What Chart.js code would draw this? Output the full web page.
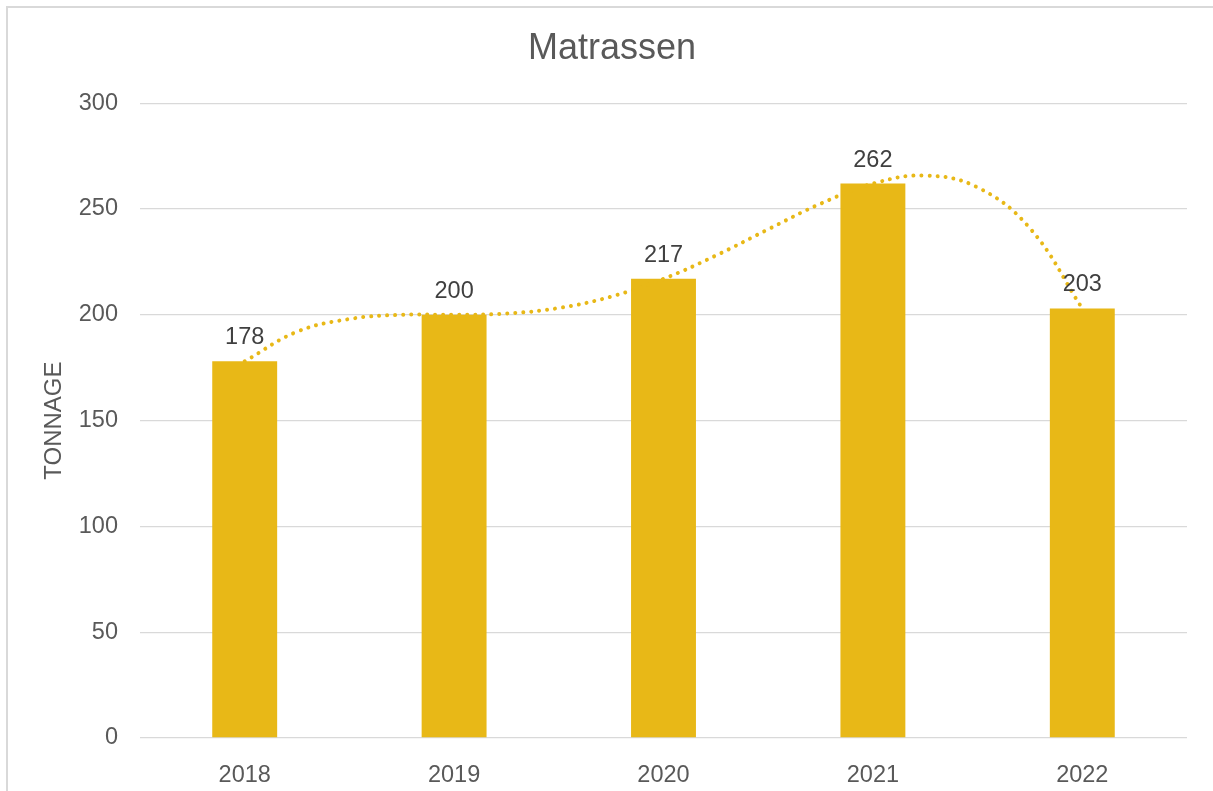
<!DOCTYPE html>
<html>
<head>
<meta charset="utf-8">
<script src="https://cdn.jsdelivr.net/npm/chart.js@4"></script>
<style>
  html, body { margin: 0; padding: 0; background: #fff; }
  #frame {
    position: absolute; left: 6px; top: 6px; width: 1400px; height: 1000px;
    border-left: 2px solid #d9d9d9; border-top: 2px solid #d9d9d9;
  }
  #wrap { position: absolute; left: 0; top: 0; width: 1213px; height: 791px; }
</style>
</head>
<body>
<div id="frame"></div>
<div id="wrap"><canvas id="chart"></canvas></div>
<script>
// values
const years = ['2018', '2019', '2020', '2021', '2022'];
const tonnage = [178, 200, 217, 262, 203];

const trendX = [0, 0.25, 0.5, 0.75, 1, 1.25, 1.5, 1.75, 2, 2.25, 2.5, 2.75, 3, 3.25, 3.5, 3.75, 4];
const trendY = [178, 192, 198, 200, 200, 200.6, 203.2, 208.6, 217, 228, 240.4, 252.5, 262, 265.8, 260.2, 240.9, 203];

const yTicks = [0, 50, 100, 150, 200, 250, 300];

const gold = '#E8B817';
const textGrey = '#595959';
const font = 'Liberation Sans, Arial, sans-serif';

// writes the value above each bar
const barLabels = {
    id: 'barLabels',
    afterDatasetsDraw(chart) {
        const ctx = chart.ctx;
        const meta = chart.getDatasetMeta(0);
        ctx.save();
        ctx.font = '23.5px ' + font;
        ctx.fillStyle = '#404040';
        ctx.textAlign = 'center';
        ctx.textBaseline = 'alphabetic';
        meta.data.forEach((bar, i) => {
            ctx.fillText(String(tonnage[i]), bar.x, bar.y - 17);
        });
        ctx.restore();
    }
};

new Chart(document.getElementById('chart'), {
    type: 'bar',
    data: {
        labels: years,
        datasets: [
            {
                type: 'bar',
                data: tonnage,
                backgroundColor: gold,
                grouped: false,
                categoryPercentage: 1,
                barPercentage: 0.31,
                order: 2
            },
            {
                type: 'line',
                data: trendX.map((x, i) => ({ x: x, y: trendY[i] })),
                xAxisID: 'xTrend',
                borderColor: gold,
                borderWidth: 4,
                borderDash: [0.01, 8],
                borderCapStyle: 'round',
                pointRadius: 0,
                tension: 0.4,
                fill: false,
                order: 1
            }
        ]
    },
    options: {
        responsive: true,
        maintainAspectRatio: false,
        animation: false,
        layout: { padding: { left: 37, right: 26, top: 0, bottom: 0 } },
        plugins: {
            legend: { display: false },
            tooltip: { enabled: false },
            title: {
                display: true,
                text: 'Matrassen',
                color: textGrey,
                font: { family: font, size: 36, weight: 'normal' },
                padding: { top: 27, bottom: 33 }
            }
        },
        scales: {
            x: {
                grid: { display: false },
                border: { display: false },
                ticks: { color: textGrey, font: { family: font, size: 23.5 }, padding: 15.5 },
                afterFit(scale) { scale.height = 53; }
            },
            xTrend: {
                type: 'linear',
                display: false,
                offset: false,
                min: -0.5,
                max: 4.5
            },
            y: {
                min: 0,
                max: 300,
                afterBuildTicks(scale) { scale.ticks = yTicks.map(v => ({ value: v })); },
                grid: { color: '#d9d9d9', lineWidth: 1.3, drawTicks: false },
                border: { display: false },
                ticks: { color: textGrey, font: { family: font, size: 23.5 }, padding: 22 },
                title: {
                    display: true,
                    text: 'TONNAGE',
                    color: textGrey,
                    font: { family: font, size: 24, weight: 'normal' },
                    padding: { top: 2.6, bottom: 0 }
                },
                afterFit(scale) { scale.width = 103; }
            }
        }
    },
    plugins: [barLabels]
});
</script>
</body>
</html>
